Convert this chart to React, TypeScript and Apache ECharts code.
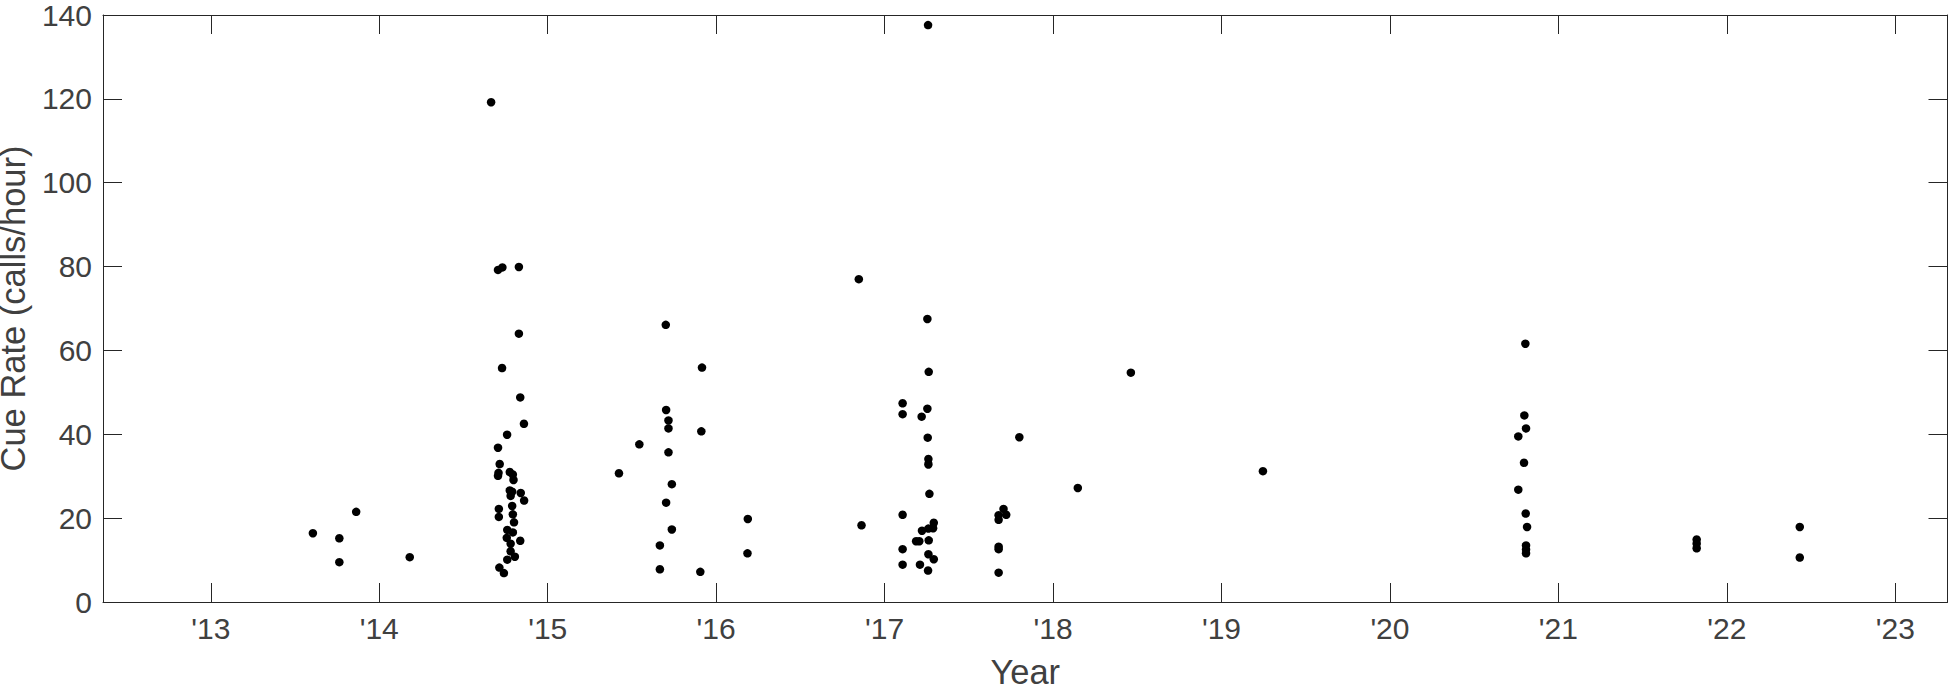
import React, { useEffect, useRef } from "react";
import * as echarts from "echarts";

const years: number[] = [
  2013.606, 2013.763, 2013.763, 2013.863, 2014.181,
  2014.664, 2014.705, 2014.731, 2014.829, 2014.829, 2014.729, 2014.837, 2014.859, 2014.759, 2014.705,
  2014.715, 2014.705, 2014.708, 2014.775, 2014.793, 2014.797, 2014.775, 2014.789, 2014.840, 2014.780,
  2014.860, 2014.710, 2014.789, 2014.710, 2014.793, 2014.800, 2014.760, 2014.793, 2014.757, 2014.837,
  2014.780, 2014.780, 2014.805, 2014.760, 2014.713, 2014.740,
  2015.423, 2015.544, 2015.666, 2015.666, 2015.701, 2015.703, 2015.717, 2015.717, 2015.717, 2015.737,
  2015.703, 2015.737, 2015.916, 2015.912, 2015.906, 2016.188, 2016.186,
  2016.847, 2016.863, 2017.258, 2017.254, 2017.262, 2017.107, 2017.107, 2017.254, 2017.220, 2017.256,
  2017.260, 2017.260, 2017.266, 2017.107, 2017.292, 2017.288, 2017.260, 2017.222, 2017.187, 2017.206,
  2017.262, 2017.107, 2017.260, 2017.292, 2017.107, 2017.210, 2017.258,
  2017.706, 2017.722, 2017.677, 2017.677, 2017.677, 2017.677, 2017.677, 2017.800, 2018.147, 2018.462,
  2019.246,
  2020.804, 2020.798, 2020.808, 2020.762, 2020.796, 2020.762, 2020.806, 2020.814, 2020.808, 2020.808,
  2020.808, 2021.821, 2021.821, 2021.821, 2022.433, 2022.433,
];

const rates: number[] = [
  16.4, 15.2, 9.5, 21.5, 10.7,
  119.2, 79.2, 79.8, 79.9, 64.0, 55.8, 48.8, 42.5, 39.9, 36.8,
  32.9, 30.1, 30.8, 31.0, 30.4, 29.1, 26.6, 26.3, 26.0, 25.3,
  24.2, 22.2, 22.9, 20.3, 20.9, 19.0, 17.2, 16.6, 15.3, 14.6,
  13.9, 12.1, 10.8, 10.1, 8.2, 6.9,
  30.7, 37.6, 13.5, 7.8, 66.1, 45.8, 43.3, 41.4, 35.7, 28.1,
  23.7, 17.3, 55.9, 40.7, 7.2, 19.8, 11.6,
  77.0, 18.3, 137.6, 67.5, 54.9, 47.4, 44.8, 46.1, 44.2, 39.2,
  34.1, 32.8, 25.8, 20.8, 18.9, 17.6, 17.5, 17.0, 14.5, 14.5,
  14.7, 12.6, 11.4, 10.2, 8.9, 8.9, 7.5,
  22.2, 20.8, 20.7, 19.6, 13.2, 12.6, 7.0, 39.3, 27.2, 54.7,
  31.2,
  61.6, 44.5, 41.4, 39.5, 33.2, 26.8, 21.1, 17.9, 13.5, 12.5,
  11.6, 14.9, 13.9, 12.8, 17.9, 10.6,
];

const tickYears: number[] = [2013, 2014, 2015, 2016, 2017, 2018, 2019, 2020, 2021, 2022, 2023];
const yTicks = { min: 0, max: 140, interval: 20 };
const xRange = { min: 2012.36, max: 2023.31 };

const FONT = "'Liberation Sans', Arial, Helvetica, sans-serif";
const AXIS_COLOR = "#262626";
const TEXT_COLOR = "#404040";

export default function App() {
  const ref = useRef<HTMLDivElement>(null);
  useEffect(() => {
    if (!ref.current) return;
    const chart = echarts.init(ref.current, null, { renderer: "svg" });
    const data = years.map((y, i) => [y, rates[i]]);
    const lineStyle = { color: AXIS_COLOR, width: 1 };
    chart.setOption({
      animation: false,
      backgroundColor: "#ffffff",
      grid: {
        left: 103,
        right: 1.5,
        top: 15,
        bottom: 91,
        containLabel: false,
        outerBoundsMode: "none",
      },
      xAxis: [
        {
          type: "value",
          position: "bottom",
          min: xRange.min,
          max: xRange.max,
          axisLine: { show: true, onZero: false, lineStyle },
          axisTick: { show: true, inside: true, length: 19, customValues: tickYears, lineStyle },
          axisLabel: {
            customValues: tickYears,
            formatter: (v: number) => "'" + String(Math.round(v)).slice(2),
            fontSize: 30,
            fontFamily: FONT,
            color: TEXT_COLOR,
            margin: 11,
          },
          splitLine: { show: false },
          name: "Year",
          nameLocation: "middle",
          nameGap: 52,
          nameTextStyle: { fontSize: 34.5, fontFamily: FONT, color: TEXT_COLOR },
        },
        {
          type: "value",
          position: "top",
          min: xRange.min,
          max: xRange.max,
          axisLine: { show: true, onZero: false, lineStyle },
          axisTick: { show: true, inside: true, length: 19, customValues: tickYears, lineStyle },
          axisLabel: { show: false },
          splitLine: { show: false },
        },
      ],
      yAxis: [
        {
          type: "value",
          position: "left",
          min: yTicks.min,
          max: yTicks.max,
          interval: yTicks.interval,
          axisLine: { show: true, onZero: false, lineStyle },
          axisTick: { show: true, inside: true, length: 19, lineStyle },
          axisLabel: { fontSize: 30, fontFamily: FONT, color: TEXT_COLOR, margin: 11 },
          splitLine: { show: false },
          name: "Cue Rate (calls/hour)",
          nameLocation: "middle",
          nameRotate: 90,
          nameGap: 50,
          nameTextStyle: { fontSize: 34.5, lineHeight: 36, fontFamily: FONT, color: TEXT_COLOR },
        },
        {
          type: "value",
          position: "right",
          min: yTicks.min,
          max: yTicks.max,
          interval: yTicks.interval,
          axisLine: { show: true, onZero: false, lineStyle },
          axisTick: { show: true, inside: true, length: 19, lineStyle },
          axisLabel: { show: false },
          splitLine: { show: false },
        },
      ],
      series: [
        {
          type: "scatter",
          xAxisIndex: 0,
          yAxisIndex: 0,
          data,
          symbol: "circle",
          symbolSize: 8.5,
          itemStyle: { color: "#000000", opacity: 1 },
          emphasis: { disabled: true },
        },
      ],
    });
    return () => chart.dispose();
  }, []);
  return (
    <div
      ref={ref}
      style={{ position: "absolute", left: 0, top: 0, width: 1949, height: 693 }}
    />
  );
}
